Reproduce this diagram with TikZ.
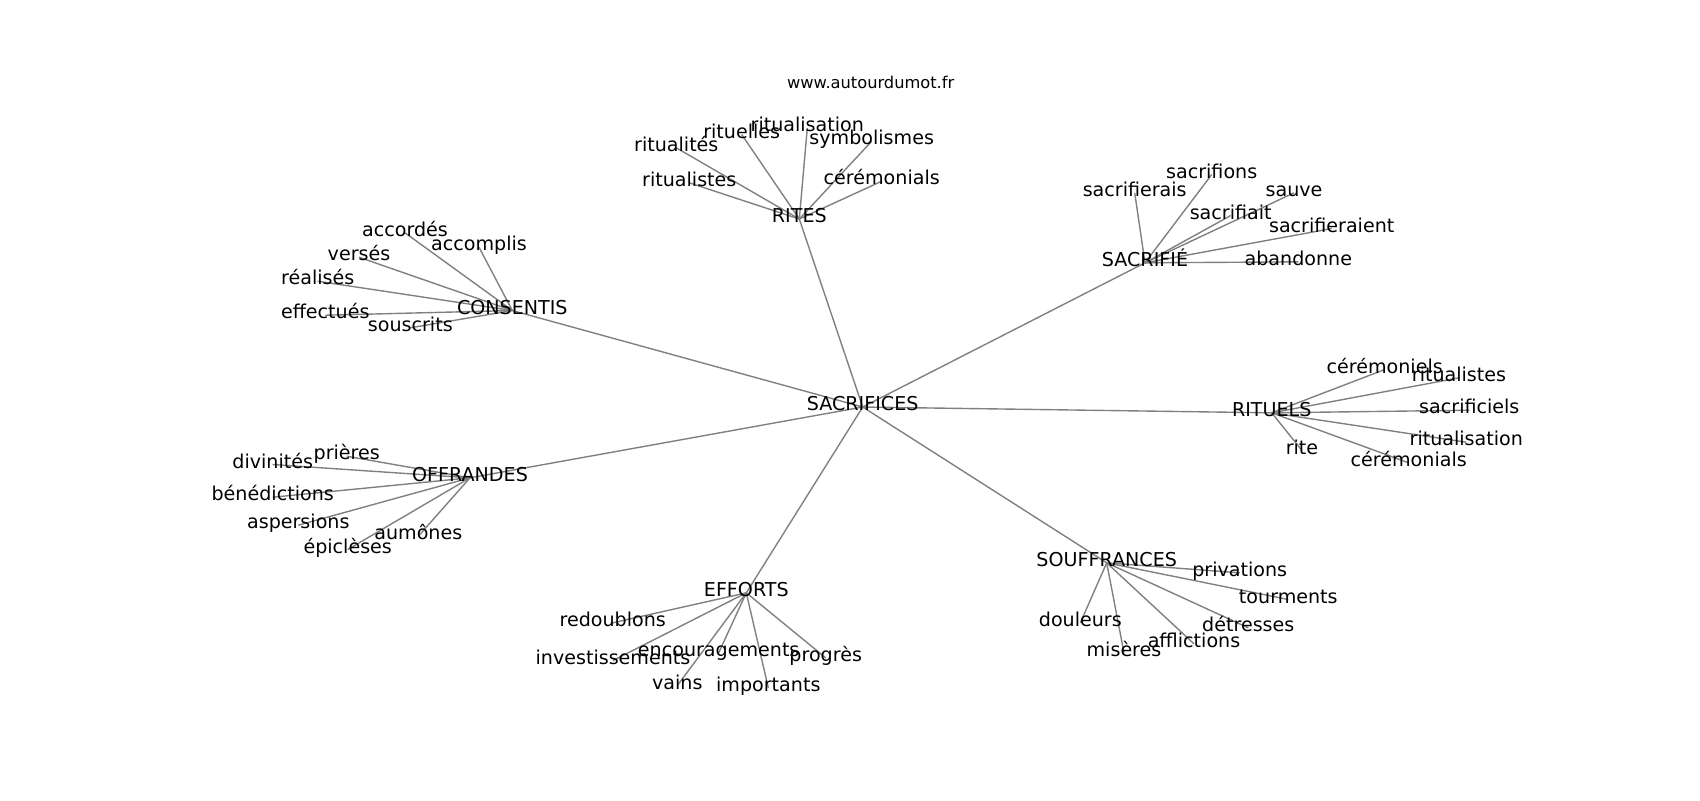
\documentclass[tikz,border=0pt]{standalone}
\usepackage{fontspec}
\setmainfont{DejaVu Sans}
\pgfdeclarelayer{bg}
\pgfsetlayers{bg,main}
\begin{document}
\begin{tikzpicture}[x=0.72pt,y=-0.72pt,
  lbl/.style={font=\fontsize{13.75}{16}\selectfont, inner sep=0pt, text height=0.75em, text depth=0.25em, anchor=center, yshift=-1.1pt},
  urlstyle/.style={font=\fontsize{11.7}{14}\selectfont, inner sep=0pt, anchor=center},
  edge/.style={draw=black!50, line width=1pt}]
\useasboundingbox (0,0) rectangle (1700,800);

\node[urlstyle] (url) at (870.7,82.5) {www.autourdumot.fr};

\node[lbl] (c) at (862.7,405.5) {SACRIFICES};

% RITES
\node[lbl] (rites) at (799.3,217.5) {RITES};
\node[lbl] (rA) at (807.3,126.3) {ritualisation};
\node[lbl] (rB) at (741.7,133) {rituelles};
\node[lbl] (rC) at (676.3,146.3) {ritualités};
\node[lbl] (rD) at (871.7,139.7) {symbolismes};
\node[lbl] (rE) at (689.3,181.3) {ritualistes};
\node[lbl] (rF) at (881.7,179.7) {cérémonials};

% SACRIFIE
\node[lbl] (sacr) at (1145,261.3) {SACRIFIÉ};
\node[lbl] (sA) at (1211.7,173) {sacrifions};
\node[lbl] (sB) at (1134.7,191.3) {sacrifierais};
\node[lbl] (sC) at (1294,191.3) {sauve};
\node[lbl] (sD) at (1230.7,214) {sacrifiait};
\node[lbl] (sE) at (1331.7,227) {sacrifieraient};
\node[lbl] (sF) at (1298.3,260.3) {abandonne};

% CONSENTIS
\node[lbl] (cons) at (512.3,309) {CONSENTIS};
\node[lbl] (cA) at (405,231.3) {accordés};
\node[lbl] (cB) at (479,245.7) {accomplis};
\node[lbl] (cC) at (359,255.7) {versés};
\node[lbl] (cD) at (317.7,279.7) {réalisés};
\node[lbl] (cE) at (325.3,313.7) {effectués};
\node[lbl] (cF) at (410.3,326.3) {souscrits};

% RITUELS
\node[lbl] (ritu) at (1271.7,411.3) {RITUELS};
\node[lbl] (uA) at (1384.7,368) {cérémoniels};
\node[lbl] (uB) at (1459,376.3) {ritualistes};
\node[lbl] (uC) at (1469.3,408.7) {sacrificiels};
\node[lbl] (uD) at (1466.3,440.7) {ritualisation};
\node[lbl] (uE) at (1302,449) {rite};
\node[lbl] (uF) at (1408.7,461.3) {cérémonials};

% OFFRANDES
\node[lbl] (offr) at (470,476.3) {OFFRANDES};
\node[lbl] (oA) at (272.7,463) {divinités};
\node[lbl] (oB) at (346.7,454.7) {prières};
\node[lbl] (oC) at (272.7,495.7) {bénédictions};
\node[lbl] (oD) at (298.3,523.7) {aspersions};
\node[lbl] (oE) at (418.3,534.7) {aumônes};
\node[lbl] (oF) at (347.7,548) {épiclèses};

% EFFORTS
\node[lbl] (eff) at (746.3,591.3) {EFFORTS};
\node[lbl] (eA) at (612.7,621.3) {redoublons};
\node[lbl] (eB) at (613,659) {investissements};
\node[lbl] (eC) at (718.7,651.3) {encouragements};
\node[lbl] (eD) at (825.7,656.3) {progrès};
\node[lbl] (eE) at (677.3,684) {vains};
\node[lbl] (eF) at (768.3,686.3) {importants};

% SOUFFRANCES
\node[lbl] (souf) at (1106.7,561.3) {SOUFFRANCES};
\node[lbl] (fA) at (1239.7,571.3) {privations};
\node[lbl] (fB) at (1288.3,598) {tourments};
\node[lbl] (fC) at (1080.3,621.3) {douleurs};
\node[lbl] (fD) at (1248.3,626.3) {détresses};
\node[lbl] (fE) at (1194,642.3) {afflictions};
\node[lbl] (fF) at (1124,651.3) {misères};

\begin{pgfonlayer}{bg}
\fill[white] (0,0) rectangle (1700,800);
\foreach \h in {rites,sacr,cons,ritu,offr,eff,souf}
  \draw[edge] (c.center) -- (\h.center);
\foreach \l in {rA,rB,rC,rD,rE,rF}
  \draw[edge] (rites.center) -- (\l.center);
\foreach \l in {sA,sB,sC,sD,sE,sF}
  \draw[edge] (sacr.center) -- (\l.center);
\foreach \l in {cA,cB,cC,cD,cE,cF}
  \draw[edge] (cons.center) -- (\l.center);
\foreach \l in {uA,uB,uC,uD,uE,uF}
  \draw[edge] (ritu.center) -- (\l.center);
\foreach \l in {oA,oB,oC,oD,oE,oF}
  \draw[edge] (offr.center) -- (\l.center);
\foreach \l in {eA,eB,eC,eD,eE,eF}
  \draw[edge] (eff.center) -- (\l.center);
\foreach \l in {fA,fB,fC,fD,fE,fF}
  \draw[edge] (souf.center) -- (\l.center);
\end{pgfonlayer}
\end{tikzpicture}
\end{document}
